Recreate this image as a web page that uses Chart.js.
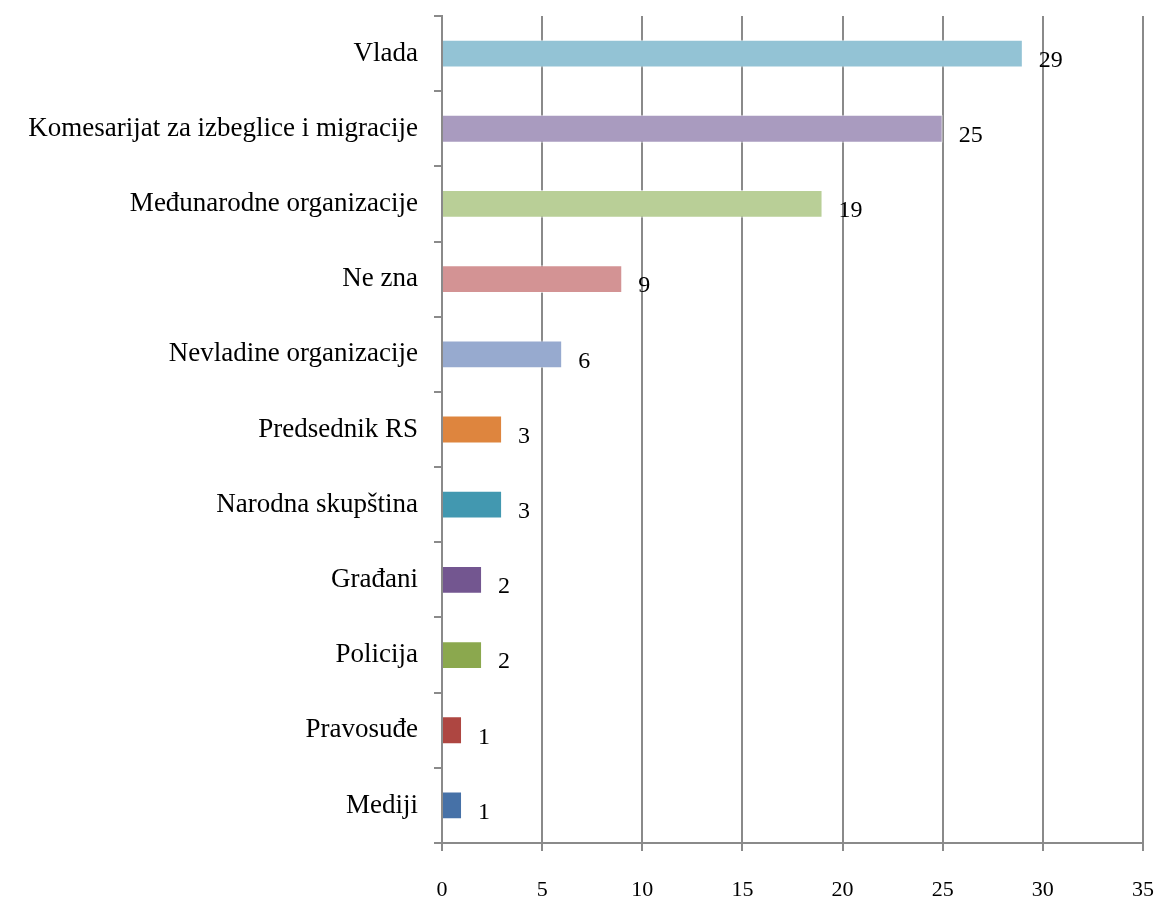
<!DOCTYPE html>
<html>
<head>
<meta charset="utf-8">
<script src="https://cdn.jsdelivr.net/npm/chart.js@4"></script>
<style>
  html, body { margin: 0; padding: 0; background: #fff; }
  #wrap { width: 1158px; height: 898px; position: relative; }
</style>
</head>
<body>
<div id="wrap"><canvas id="chart"></canvas></div>
<script>
const categories = [
  'Vlada',
  'Komesarijat za izbeglice i migracije',
  'Međunarodne organizacije',
  'Ne zna',
  'Nevladine organizacije',
  'Predsednik RS',
  'Narodna skupština',
  'Građani',
  'Policija',
  'Pravosuđe',
  'Mediji',
];
const values = [29, 25, 19, 9, 6, 3, 3, 2, 2, 1, 1];
const barColors = ['#93c3d5', '#a99bbf', '#b9cf97', '#d39394', '#97aacf', '#de853e', '#4298b0', '#735690', '#8ba84e', '#ae4641', '#4671a7'];
const xTicks = [0, 5, 10, 15, 20, 25, 30, 35];

const FONT = '"Liberation Serif", "DejaVu Serif", serif';
const GRID = '#8a8a8a';

// value labels to the right of each bar
const valueLabels = {
  id: 'valueLabels',
  afterDatasetsDraw(chart) {
    const ctx = chart.ctx;
    const meta = chart.getDatasetMeta(0);
    ctx.save();
    ctx.font = '24px ' + FONT;
    ctx.fillStyle = '#000';
    ctx.textAlign = 'left';
    ctx.textBaseline = 'middle';
    meta.data.forEach((bar, i) => {
      ctx.fillText(String(values[i]), bar.x + 16, bar.y + 7);
    });
    ctx.restore();
  },
};

new Chart(document.getElementById('chart').getContext('2d'), {
  type: 'bar',
  data: {
    labels: categories,
    datasets: [{
      data: values,
      backgroundColor: barColors,
      borderColor: 'rgba(255,255,255,0.6)',
      borderWidth: 1,
      barPercentage: 0.37,
      categoryPercentage: 1,
    }],
  },
  options: {
    indexAxis: 'y',
    responsive: true,
    maintainAspectRatio: false,
    animation: false,
    layout: { padding: { top: 16, right: 15, left: 0, bottom: 0 } },
    plugins: {
      legend: { display: false },
      tooltip: { enabled: false },
    },
    scales: {
      x: {
        min: 0,
        max: 35,
        afterBuildTicks(scale) {
          scale.ticks = xTicks.map((v) => ({ value: v }));
        },
        afterFit(scale) {
          scale.height = 55;
          scale.paddingLeft = 0;
          scale.paddingRight = 0;
        },
        grid: { color: GRID, lineWidth: 2, tickLength: 8, drawTicks: true },
        border: { color: GRID, width: 2 },
        ticks: { color: '#000', font: { family: FONT, size: 22 }, padding: 26, maxRotation: 0 },
      },
      y: {
        offset: true,
        afterFit(scale) {
          scale.width = 442;
          scale.paddingTop = 0;
          scale.paddingBottom = 0;
        },
        grid: { drawOnChartArea: false, color: GRID, lineWidth: 2, tickLength: 8, offset: true },
        border: { color: GRID, width: 2 },
        ticks: { color: '#000', font: { family: FONT, size: 27 }, padding: 16 },
      },
    },
  },
  plugins: [valueLabels],
});
</script>
</body>
</html>
